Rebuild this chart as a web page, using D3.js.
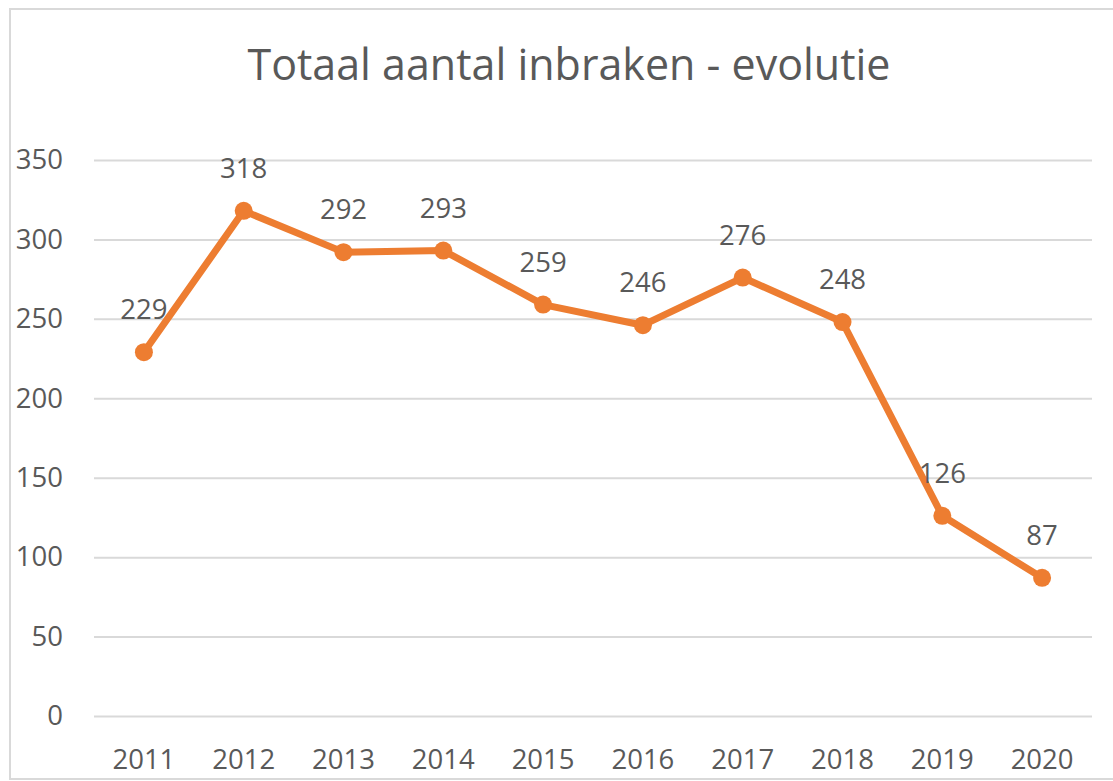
<!DOCTYPE html>
<html>
<head>
<meta charset="utf-8">
<script src="https://cdn.jsdelivr.net/npm/d3@7"></script>
<style>
  html, body { margin: 0; padding: 0; background: #fff; }
  svg { display: block; }
  text { font-family: "Open Sans", "Noto Sans", sans-serif; fill: #595959; }
</style>
</head>
<body>
<svg id="chart" width="1113" height="781"></svg>
<script>
const title = "Totaal aantal inbraken - evolutie";
const years = ["2011","2012","2013","2014","2015","2016","2017","2018","2019","2020"];
const values = [229, 318, 292, 293, 259, 246, 276, 248, 126, 87];
const yTicks = [0, 50, 100, 150, 200, 250, 300, 350];

const svg = d3.select("#chart");
const FS = 27.5;

// outer border
svg.append("rect")
  .attr("x", 10).attr("y", 9)
  .attr("width", 1130).attr("height", 770)
  .attr("fill", "#fff").attr("stroke", "#D9D9D9").attr("stroke-width", 2);

const plotLeft = 94, plotRight = 1092, plotTop = 160, plotBottom = 716;

const x = d3.scaleBand().domain(years).range([plotLeft, plotRight]).padding(0);
const y = d3.scaleLinear().domain([0, 350]).range([plotBottom, plotTop]);

// gridlines + y labels
const gAxisY = svg.append("g").attr("transform", `translate(${plotLeft},0)`)
  .call(d3.axisLeft(y).tickValues(yTicks).tickSize(-(plotRight - plotLeft)).tickPadding(31).tickFormat(d3.format("d")));
gAxisY.select(".domain").remove();
gAxisY.selectAll(".tick line").attr("stroke", "#D9D9D9").attr("stroke-width", 2);
gAxisY.selectAll(".tick text")
  .attr("font-size", FS).attr("fill", "#595959")
  .style("font-family", '"Open Sans", sans-serif');

// x axis
const gAxisX = svg.append("g").attr("transform", `translate(0,${plotBottom})`)
  .call(d3.axisBottom(x).tickSize(0).tickPadding(0));
gAxisX.select(".domain").remove();
gAxisX.selectAll(".tick text")
  .attr("font-size", FS).attr("fill", "#595959")
  .attr("dy", null).attr("y", 53)
  .style("font-family", '"Open Sans", sans-serif');

// line
const cx = (d, i) => x(years[i]) + x.bandwidth() / 2;
const line = d3.line().x((d, i) => cx(d, i)).y(d => y(d));
svg.append("path")
  .datum(values)
  .attr("d", line)
  .attr("fill", "none")
  .attr("stroke", "#ED7D31")
  .attr("stroke-width", 7)
  .attr("stroke-linejoin", "round");

svg.selectAll("circle.pt")
  .data(values)
  .join("circle")
  .attr("class", "pt")
  .attr("cx", (d, i) => cx(d, i))
  .attr("cy", d => y(d))
  .attr("r", 9)
  .attr("fill", "#ED7D31");

// data labels
svg.selectAll("text.lbl")
  .data(values)
  .join("text")
  .attr("class", "lbl")
  .attr("x", (d, i) => cx(d, i))
  .attr("y", d => y(d) - 33)
  .attr("text-anchor", "middle")
  .attr("font-size", FS)
  .text(d => d);

// title
const t = svg.append("text")
  .attr("x", 569).attr("y", 80)
  .attr("text-anchor", "middle")
  .attr("font-size", 38)
  .text(title);
const len = t.node().getComputedTextLength();
if (len > 0) t.attr("font-size", 38 * 643 / len);
</script>
</body>
</html>
